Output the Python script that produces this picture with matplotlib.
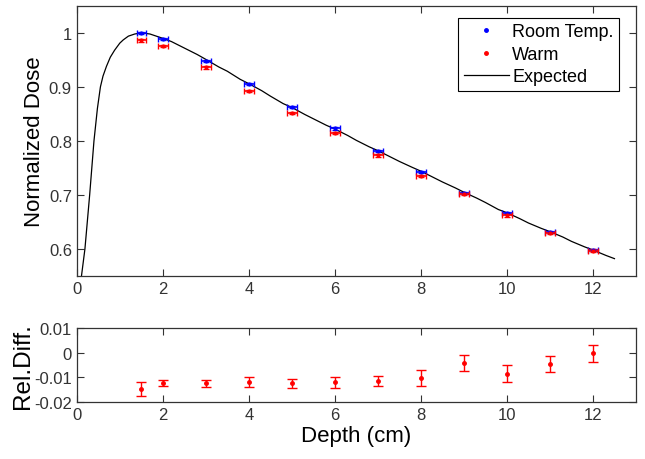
import matplotlib.pyplot as plt
from matplotlib.lines import Line2D
import numpy as np

plt.rcParams['font.family'] = ['Liberation Sans', 'DejaVu Sans']

# measured depths (cm)
depth = [1.5, 2, 3, 4, 5, 6, 7, 8, 9, 10, 11, 12]
# normalized dose, room temperature and warm
dose_room = [1.000, 0.989, 0.948, 0.905, 0.863, 0.823, 0.781, 0.743, 0.704, 0.667, 0.632, 0.598]
dose_warm = [0.986, 0.976, 0.936, 0.893, 0.852, 0.814, 0.773, 0.735, 0.701, 0.662, 0.629, 0.597]
depth_err = 0.11
dose_err = 0.002

# expected depth-dose curve
exp_depth = [0.11, 0.19, 0.30, 0.40, 0.48, 0.55, 0.61, 0.69, 0.78, 0.88, 1.0, 1.08,
             1.2, 1.35, 1.5, 1.7,
             2.0, 2.2, 2.5, 2.8, 3.0, 3.3, 3.5, 3.8, 4.0, 4.3, 4.5, 4.8, 5.0,
             5.3, 5.5, 5.8, 6.0, 6.3, 6.5, 6.8, 7.0, 7.3, 7.5, 7.8, 8.0, 8.3,
             8.5, 8.8, 9.0, 9.3, 9.5, 9.8, 10.0, 10.3, 10.5, 10.8, 11.0, 11.3,
             11.5, 11.8, 12.0, 12.3, 12.5]
exp_dose = [0.55, 0.60, 0.70, 0.80, 0.86, 0.90, 0.92, 0.938, 0.955, 0.968, 0.981, 0.987,
            0.994, 0.998, 1.0, 0.998,
            0.990, 0.984, 0.972, 0.960, 0.951, 0.937, 0.929, 0.914, 0.906, 0.893, 0.883, 0.869, 0.862,
            0.849, 0.841, 0.829, 0.822, 0.810, 0.801, 0.789, 0.782, 0.770, 0.762, 0.751, 0.744, 0.732,
            0.724, 0.713, 0.705, 0.694, 0.686, 0.673, 0.667, 0.656, 0.648, 0.638, 0.632, 0.622,
            0.614, 0.604, 0.598, 0.588, 0.582]

# relative difference warm vs room
rel_diff = [-0.0146, -0.0123, -0.0125, -0.0120, -0.0125, -0.0120, -0.0115, -0.0103,
            -0.0042, -0.0086, -0.0046, -0.0003]
rel_err = [0.0028, 0.0012, 0.0013, 0.0020, 0.0017, 0.0023, 0.0020, 0.0031,
           0.0033, 0.0035, 0.0034, 0.0035]

fig = plt.figure(figsize=(6.45, 4.6), dpi=100)
ax1 = fig.add_axes([0.119, 0.398, 0.867, 0.587])
ax2 = fig.add_axes([0.119, 0.124, 0.867, 0.161])

ax1.plot(exp_depth, exp_dose, color='black', lw=0.9)
ax1.errorbar(depth, dose_room, xerr=depth_err, yerr=dose_err, fmt='.', color='blue',
             ms=4, elinewidth=1.2, capsize=2)
ax1.errorbar(depth, dose_warm, xerr=depth_err, yerr=dose_err, fmt='.', color='red',
             ms=4, elinewidth=1.2, capsize=2)

handles = [Line2D([], [], ls='none', marker='.', color='blue', ms=5),
           Line2D([], [], ls='none', marker='.', color='red', ms=5),
           Line2D([], [], color='black', lw=0.9)]
leg = ax1.legend(handles, ['Room Temp.', 'Warm', 'Expected'], loc='upper right',
                 bbox_to_anchor=(0.970, 0.955), borderaxespad=0,
                 fontsize=13, fancybox=False, framealpha=1, edgecolor='black',
                 handlelength=2.5, labelspacing=0.3,
                 handletextpad=0.2, borderpad=0.3)
leg.get_frame().set_linewidth(0.8)

ax1.set_xlim(0, 13)
ax1.set_ylim(0.55, 1.05)
ax1.set_xticks(np.arange(0, 13, 2))
ax1.set_yticks([0.6, 0.7, 0.8, 0.9, 1.0])
ax1.set_yticklabels(['0.6', '0.7', '0.8', '0.9', '1'])
ax1.set_ylabel('Normalized Dose', fontsize=16, labelpad=3)

ax2.errorbar(depth, rel_diff, yerr=rel_err, fmt='.', color='red', ms=5,
             elinewidth=1, capsize=3.8)
ax2.set_xlim(0, 13)
ax2.set_ylim(-0.02, 0.01)
ax2.set_xticks(np.arange(0, 13, 2))
ax2.set_yticks([-0.02, -0.01, 0, 0.01])
ax2.set_yticklabels(['-0.02', '-0.01', '0', '0.01'])
ax2.set_ylabel('Rel.Diff.', fontsize=17.5, labelpad=0)
ax2.set_xlabel('Depth (cm)', fontsize=16, labelpad=2)

for ax in (ax1, ax2):
    ax.tick_params(direction='in', top=True, right=True, labelsize=12, length=5,
                   colors='#333333', labelcolor='#333333')
    for s in ax.spines.values():
        s.set_linewidth(0.9)
        s.set_color('#333333')

fig.savefig('out.png', dpi=100)
